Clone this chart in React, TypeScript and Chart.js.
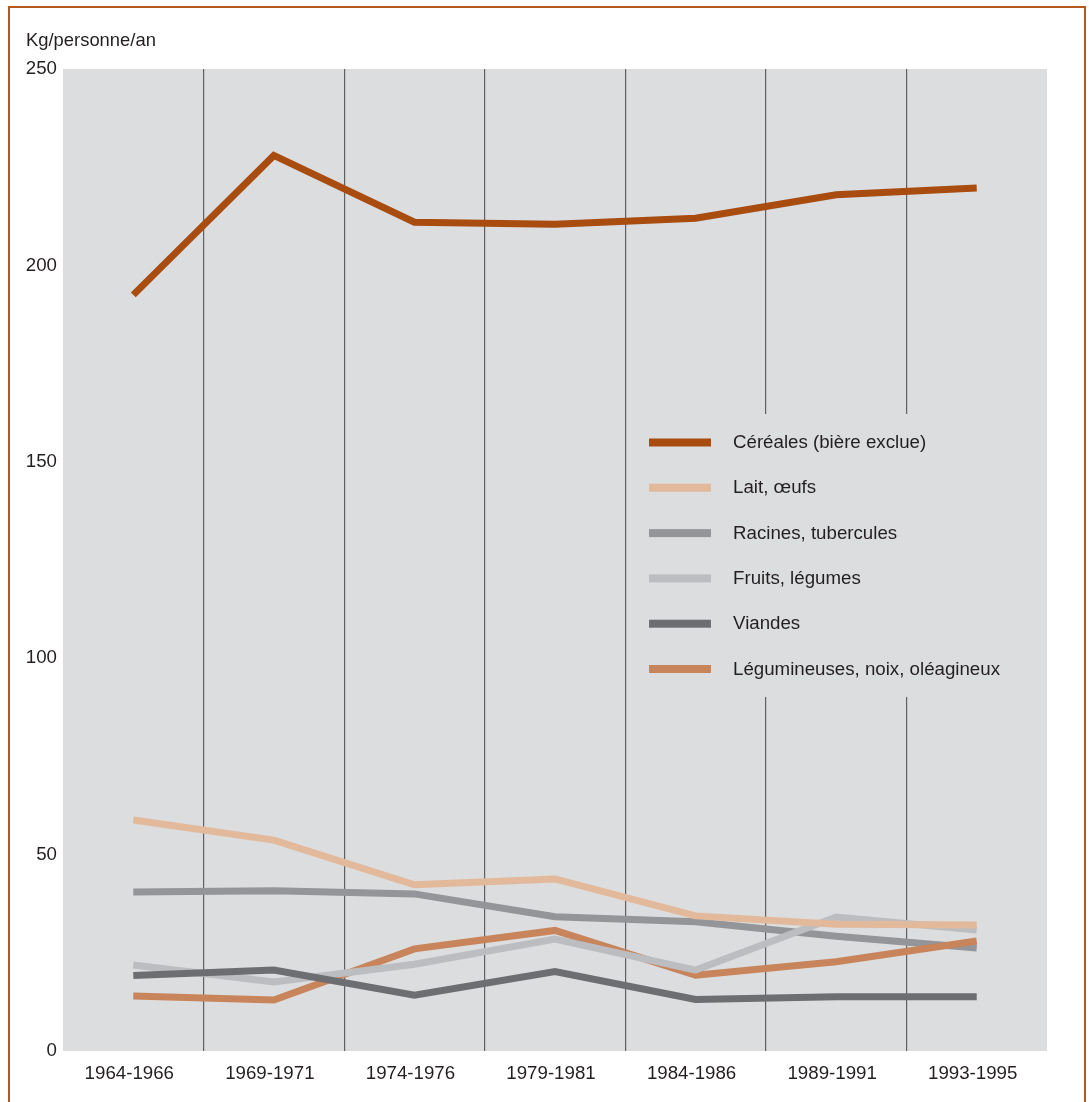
import React, { useEffect, useRef } from "react";
import { Chart, registerables } from "chart.js";

Chart.register(...registerables);

const categories = ["1964-1966", "1969-1971", "1974-1976", "1979-1981", "1984-1986", "1989-1991", "1993-1995"];
const cereales = [192.5, 228, 211, 210.5, 212, 218, 219.7];
const laitOeufs = [58.8, 53.7, 42.3, 43.8, 34.4, 32.3, 32.1];
const racines = [40.5, 40.8, 40, 34.2, 32.9, 29.2, 26.2];
const fruits = [21.9, 17.6, 22.1, 28.5, 20.6, 34.1, 30.8];
const viandes = [19.2, 20.6, 14.2, 20.2, 13.1, 13.8, 13.8];
const legumineuses = [14, 13, 26, 30.7, 19.3, 22.7, 28];
const yTickValues = [0, 50, 100, 150, 200, 250];
const seriesLabels = [
  "Céréales (bière exclue)",
  "Lait, œufs",
  "Racines, tubercules",
  "Fruits, légumes",
  "Viandes",
  "Légumineuses, noix, oléagineux",
];
const yAxisTitle = "Kg/personne/an";

const seriesValues = [cereales, laitOeufs, racines, fruits, viandes, legumineuses];
const seriesColors = ["#a84c10", "#e2b99b", "#939598", "#bcbdc0", "#6d6e71", "#c8845a"];
const seriesOrder = [0, 1, 5, 3, 2, 4];

const FONT = "'Liberation Sans', Arial, Helvetica, sans-serif";
const FONT_SIZE = 18.7;
const TEXT = "#231f20";
const PLOT_BG = "#dcdddf";

const decorPlugin = {
  id: "decor",
  beforeDraw(chart: any) {
    const { ctx, chartArea } = chart;
    ctx.save();
    ctx.fillStyle = "#ffffff";
    ctx.fillRect(0, 0, chart.width, chart.height);
    ctx.fillStyle = PLOT_BG;
    ctx.fillRect(chartArea.left, chartArea.top, chartArea.right - chartArea.left, chartArea.bottom - chartArea.top);
    // frame
    ctx.fillStyle = "#b4581e";
    ctx.fillRect(8, 6, 1078, 2);
    ctx.fillRect(8, 6, 2, chart.height);
    ctx.fillRect(1084, 6, 2, chart.height);
    // axis title
    ctx.fillStyle = TEXT;
    ctx.font = `18.4px ${FONT}`;
    ctx.textAlign = "left";
    ctx.textBaseline = "alphabetic";
    ctx.fillText(yAxisTitle, 26, 46);
    ctx.restore();
  },
  afterDraw(chart: any) {
    const { ctx, chartArea } = chart;
    ctx.save();
    // legend box (hides vertical grid lines)
    ctx.fillStyle = PLOT_BG;
    ctx.fillRect(630, 414, chartArea.right - 630, 283);
    const datasets = chart.data.datasets;
    const x0 = 649;
    const swW = 62;
    const yStart = 442.5;
    const step = 45.3;
    ctx.font = `${FONT_SIZE}px ${FONT}`;
    ctx.textAlign = "left";
    ctx.textBaseline = "alphabetic";
    datasets.forEach((ds: any, i: number) => {
      const yc = yStart + i * step;
      ctx.fillStyle = ds.borderColor;
      ctx.fillRect(x0, yc - 4, swW, 8);
      ctx.fillStyle = TEXT;
      ctx.fillText(ds.label, 733, yc + 5.5);
    });
    ctx.restore();
  },
};

export default function App() {
  const canvasRef = useRef<HTMLCanvasElement | null>(null);

  useEffect(() => {
    if (!canvasRef.current) return;
    const chart = new Chart(canvasRef.current, {
      type: "line",
      data: {
        labels: categories,
        datasets: seriesValues.map((vals, i) => ({
          label: seriesLabels[i],
          data: vals,
          borderColor: seriesColors[i],
          backgroundColor: seriesColors[i],
          borderWidth: 7,
          borderJoinStyle: "miter" as const,
          borderCapStyle: "butt" as const,
          pointRadius: 0,
          pointHoverRadius: 0,
          tension: 0,
          fill: false,
          order: seriesOrder[i],
        })),
      },
      options: {
        animation: false,
        responsive: false,
        maintainAspectRatio: false,
        events: [],
        layout: { padding: { left: 0, top: 69, right: 42, bottom: 0 } },
        plugins: {
          legend: { display: false },
          tooltip: { enabled: false },
          title: { display: false },
        },
        scales: {
          x: {
            type: "category",
            offset: true,
            z: 1,
            grid: {
              offset: true,
              drawTicks: false,
              lineWidth: 1.2,
              color: (ctx: any) =>
                ctx.type !== "tick" || ctx.index === 0 || ctx.index >= categories.length
                  ? "rgba(0,0,0,0)"
                  : "#5f6063",
            },
            border: { display: false },
            ticks: {
              color: TEXT,
              font: { family: FONT, size: FONT_SIZE },
              padding: 12,
              labelOffset: -4,
              maxRotation: 0,
              autoSkip: false,
            },
            afterFit: (scale: any) => {
              scale.height = 1102 - 1051;
            },
          },
          y: {
            type: "linear",
            min: 0,
            max: 250,
            grid: { display: false, drawTicks: false },
            border: { display: false },
            afterBuildTicks: (scale: any) => {
              scale.ticks = yTickValues.map((v) => ({ value: v }));
            },
            ticks: {
              color: TEXT,
              font: { family: FONT, size: FONT_SIZE },
              padding: 6,
            },
            afterFit: (scale: any) => {
              scale.width = 63;
            },
          },
        },
      },
      plugins: [decorPlugin],
    });
    return () => chart.destroy();
  }, []);

  return (
    <div style={{ position: "absolute", left: 0, top: 0, width: 1089, height: 1102 }}>
      <canvas ref={canvasRef} width={1089} height={1102} style={{ display: "block", width: 1089, height: 1102 }} />
    </div>
  );
}
